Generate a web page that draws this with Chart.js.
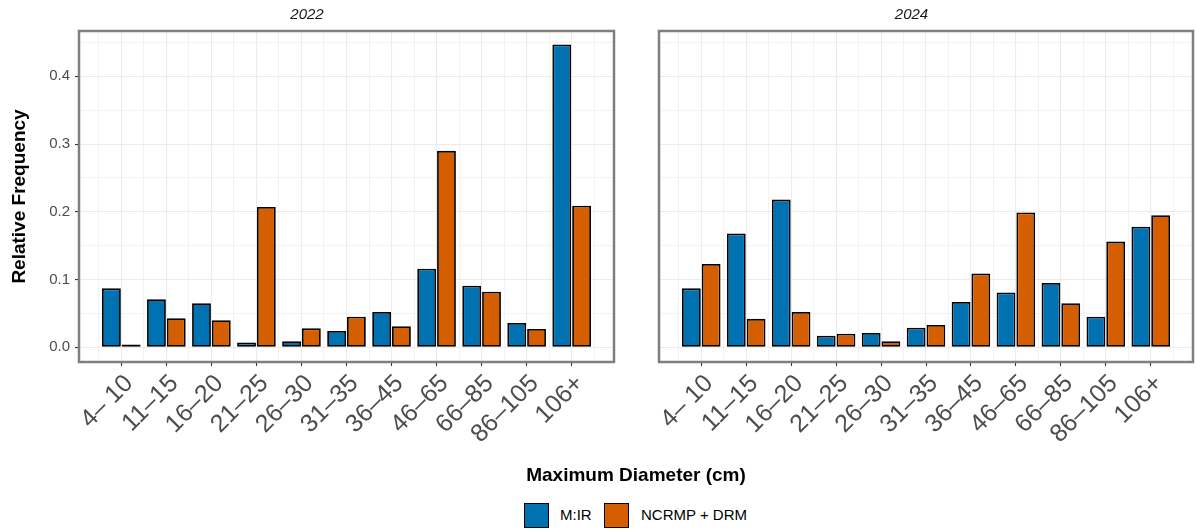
<!DOCTYPE html>
<html>
<head>
<meta charset="utf-8">
<script src="https://cdn.jsdelivr.net/npm/chart.js@4.4.1/dist/chart.umd.min.js"></script>
<style>
  body { margin: 0; background: #fff; width: 1196px; height: 529px; position: relative; overflow: hidden; font-family: "Liberation Sans", Arial, sans-serif; }
  .panel { position: absolute; top: 0; height: 470px; }
  #p1 { left: 0; width: 630px; }
  #p2 { left: 630px; width: 566px; }
  #xtitle { position: absolute; left: 79px; width: 1114px; top: 464px; text-align: center; font-weight: bold; font-size: 19px; line-height: 22px; color: #000; }
  .key { position: absolute; top: 503px; width: 25px; height: 25px; box-sizing: border-box; border: 1.5px solid #000; }
  .ktext { position: absolute; top: 506px; font-size: 15px; line-height: 18px; color: #000; }
</style>
</head>
<body>
<div class="panel" id="p1"><canvas id="c2022"></canvas></div>
<div class="panel" id="p2"><canvas id="c2024"></canvas></div>
<div id="xtitle">Maximum Diameter (cm)</div>
<div class="key" style="left:524px;background:#0072B2"></div><div class="ktext" style="left:560px">M:IR</div>
<div class="key" style="left:604px;background:#D55E00"></div><div class="ktext" style="left:641px">NCRMP + DRM</div>
<script>
// size classes along the x axis
const categories = ['4– 10', '11–15', '16–20', '21–25', '26–30', '31–35', '36–45', '46–65', '66–85', '86–105', '106+'];

// relative frequency
const mir2022   = [0.087, 0.071, 0.065, 0.007, 0.009, 0.024, 0.052, 0.116, 0.091, 0.036, 0.447];
const ncrmp2022 = [0.004, 0.043, 0.040, 0.207, 0.028, 0.045, 0.031, 0.290, 0.082, 0.027, 0.209];
const mir2024   = [0.087, 0.168, 0.218, 0.017, 0.021, 0.029, 0.067, 0.081, 0.095, 0.045, 0.178];
const ncrmp2024 = [0.123, 0.042, 0.052, 0.020, 0.009, 0.033, 0.109, 0.199, 0.065, 0.156, 0.195];

const yTicks = [0, 0.1, 0.2, 0.3, 0.4];

const BLUE = '#0072B2', ORANGE = '#D55E00';
const FONT = '"Liberation Sans", Arial, sans-serif';
Chart.defaults.font.family = FONT;

const panelBorder = {
    id: 'panelBorder',
    afterDraw(chart) {
        const { ctx, chartArea: a } = chart;
        ctx.save();
        ctx.strokeStyle = '#7F7F7F';
        ctx.lineWidth = 2.5;
        ctx.strokeRect(a.left, a.top, a.right - a.left, a.bottom - a.top);
        ctx.restore();
    }
};

const isMajorY = v => Math.round(v * 100) % 10 === 0;

function makePanel(id, year, mir, ncrmp, first) {
    const xs = categories.map((c, i) => i + 1);
    const bar = (label, vals, color) => ({
        label, backgroundColor: color, borderColor: '#000', borderWidth: 1.8, borderSkipped: false,
        categoryPercentage: 0.88, barPercentage: 0.95,
        data: xs.map((x, i) => ({ x, y: vals[i] }))
    });
    return new Chart(document.getElementById(id), {
        type: 'bar',
        data: { datasets: [bar('M:IR', mir, BLUE), bar('NCRMP + DRM', ncrmp, ORANGE)] },
        options: {
            responsive: true, maintainAspectRatio: false, animation: false,
            layout: { padding: { left: 0, right: first ? 16 : 3, top: 0, bottom: 0 } },
            plugins: {
                legend: { display: false }, tooltip: { enabled: false },
                title: { display: true, text: year, color: '#1A1A1A', font: { size: 15, style: 'italic', weight: 'normal' }, padding: { top: 6, bottom: 7 } }
            },
            scales: {
                x: {
                    type: 'linear', min: 0.06, max: 11.94, offset: false,
                    afterBuildTicks: s => { s.ticks = xs.map(v => ({ value: v })); },
                    afterFit: s => { s.height = 108; },
                    border: { display: false },
                    grid: { drawOnChartArea: false, offset: false, tickLength: 4, tickColor: '#333', tickWidth: 1.1 },
                    ticks: { autoSkip: false, minRotation: 45, maxRotation: 45, padding: 3, labelOffset: 8, color: '#4D4D4D', font: { size: 25 },
                             callback: v => categories[v - 1] }
                },
                xg: {
                    type: 'linear', position: 'bottom', min: 0.06, max: 11.94, offset: false,
                    afterBuildTicks: s => { s.ticks = []; for (let v = 0.5; v <= 11.5; v += 0.5) s.ticks.push({ value: v }); },
                    afterFit: s => { s.height = 0; },
                    border: { display: false },
                    ticks: { display: false },
                    grid: { drawTicks: false, offset: false, color: '#EBEBEB', lineWidth: c => (c.tick && Number.isInteger(c.tick.value)) ? 1.1 : 0.6 }
                },
                y: {
                    min: -0.0217, max: 0.4669,
                    afterBuildTicks: s => { s.ticks = []; for (let i = 0; i <= 9; i++) s.ticks.push({ value: Math.round(i * 5) / 100 }); },
                    afterFit: s => { s.width = first ? 79 : 29; },
                    border: { display: false },
                    grid: { color: '#EBEBEB', drawTicks: first, tickLength: 4, tickWidth: 1.1,
                            lineWidth: c => (c.tick && isMajorY(c.tick.value)) ? 1.1 : 0.6,
                            tickColor: c => (c.tick && isMajorY(c.tick.value)) ? '#333' : 'rgba(0,0,0,0)' },
                    ticks: { display: first, color: '#4D4D4D', font: { size: 15 }, padding: 5,
                             callback: v => yTicks.some(t => Math.abs(t - v) < 1e-6) ? v.toFixed(1) : '' },
                    title: { display: first, text: 'Relative Frequency', color: '#000', font: { size: 19, weight: 'bold' }, padding: { top: 8, bottom: 0 } }
                }
            }
        },
        plugins: [panelBorder]
    });
}

makePanel('c2022', '2022', mir2022, ncrmp2022, true);
makePanel('c2024', '2024', mir2024, ncrmp2024, false);
</script>
</body>
</html>
